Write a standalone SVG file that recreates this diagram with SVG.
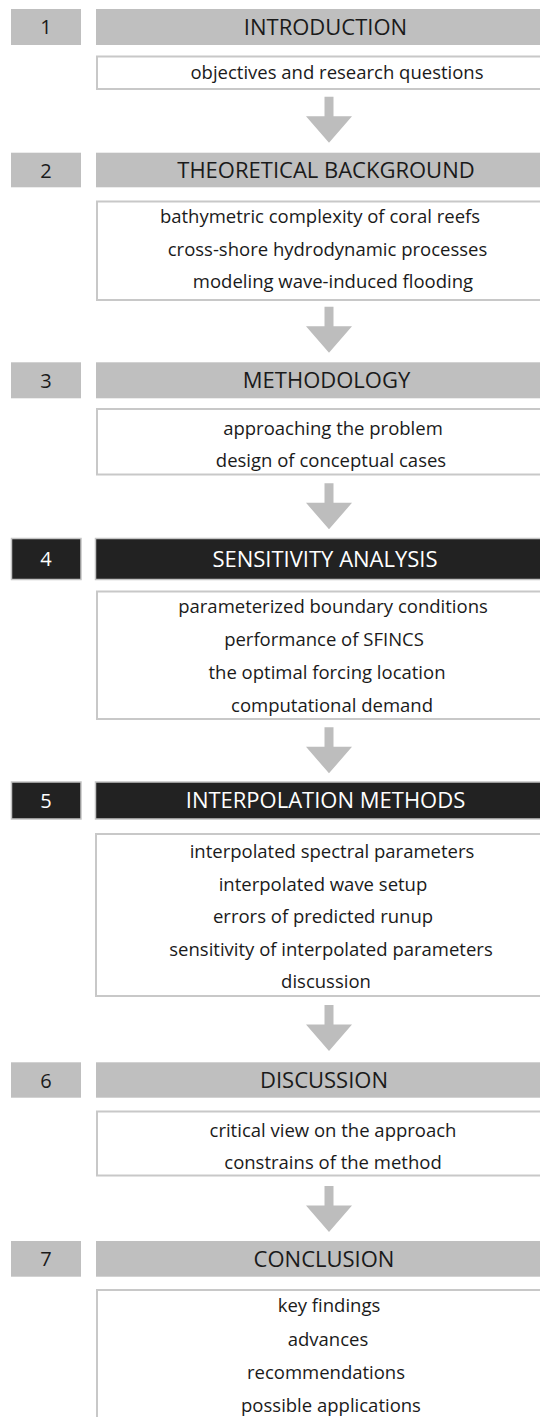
<svg xmlns="http://www.w3.org/2000/svg" width="540" height="1417" viewBox="0 0 540 1417">
<defs>
<style>
.num{fill:#bfbfbf}
.hdr{fill:#bfbfbf}
.dark{fill:#222222;stroke:#c4c4c4;stroke-width:1.5}
.box{fill:#ffffff;stroke:#c8c8c8;stroke-width:2}
.arrow{fill:#bdbdbd}
text{font-family:"Open Sans","Liberation Sans",sans-serif;text-anchor:middle}
.ht{font-size:22px;fill:#1a1a1a}
.htw{font-size:22px;fill:#ffffff}
.nt{font-size:20px;fill:#1a1a1a}
.ntw{font-size:20px;fill:#ffffff}
.ct{font-size:18.5px;fill:#1a1a1a}
</style>
<path id="arr" class="arrow" d="M-4.5,0 H4.5 V19.5 H23 L0,46 L-23,19.5 H-4.5 Z"/>
</defs>
<rect width="540" height="1417" fill="#ffffff"/>

<g id="connectors">
<use href="#arr" x="329" y="96.7"/>
<use href="#arr" x="329" y="306.7"/>
<use href="#arr" x="329" y="483.3"/>
<use href="#arr" x="329" y="727.3"/>
<use href="#arr" x="329" y="1005"/>
<use href="#arr" x="329" y="1186"/>
</g>

<g id="node1">
<rect class="num" x="11" y="9" width="70" height="36"/>
<text class="nt" x="46" y="34">1</text>
<rect class="hdr" x="96" y="9" width="460" height="36"/>
<text class="ht" x="325.5" y="34.8">INTRODUCTION</text>
<rect class="box" x="97" y="56.5" width="470" height="32.5"/>
<text class="ct" x="337" y="79">objectives and research questions</text>
</g>

<g id="node2">
<rect class="num" x="11" y="152.7" width="70" height="34.6"/>
<text class="nt" x="46" y="177.5">2</text>
<rect class="hdr" x="96" y="152.7" width="460" height="34.6"/>
<text class="ht" x="326" y="178">THEORETICAL BACKGROUND</text>
<rect class="box" x="97" y="201.5" width="470" height="98.5"/>
<text class="ct" x="320" y="223">bathymetric complexity of coral reefs</text>
<text class="ct" x="327.5" y="255.5">cross-shore hydrodynamic processes</text>
<text class="ct" x="333" y="287.5">modeling wave-induced flooding</text>
</g>

<g id="node3">
<rect class="num" x="11" y="362.3" width="70" height="36"/>
<text class="nt" x="46" y="387.5">3</text>
<rect class="hdr" x="96" y="362.3" width="460" height="36"/>
<text class="ht" x="326.5" y="388.2">METHODOLOGY</text>
<rect class="box" x="97" y="409" width="470" height="65.5"/>
<text class="ct" x="333" y="434.8">approaching the problem</text>
<text class="ct" x="331" y="466.5">design of conceptual cases</text>
</g>

<g id="node4">
<rect class="dark" x="11.5" y="538.5" width="69.5" height="41"/>
<text class="ntw" x="46" y="566">4</text>
<rect class="dark" x="95.5" y="538.5" width="460" height="41"/>
<text class="htw" x="325" y="566.8">SENSITIVITY ANALYSIS</text>
<rect class="box" x="97" y="591.5" width="470" height="127.5"/>
<text class="ct" x="333" y="612.5">parameterized boundary conditions</text>
<text class="ct" x="324" y="645.5">performance of SFINCS</text>
<text class="ct" x="327" y="679">the optimal forcing location</text>
<text class="ct" x="332" y="711.5">computational demand</text>
</g>

<g id="node5">
<rect class="dark" x="11.5" y="782" width="69.5" height="37"/>
<text class="ntw" x="46" y="807.5">5</text>
<rect class="dark" x="95.5" y="782" width="460" height="37"/>
<text class="htw" x="325.5" y="808.2">INTERPOLATION METHODS</text>
<rect class="box" x="96" y="834" width="470" height="162"/>
<text class="ct" x="332" y="858">interpolated spectral parameters</text>
<text class="ct" x="323" y="890.5">interpolated wave setup</text>
<text class="ct" x="323" y="923">errors of predicted runup</text>
<text class="ct" x="331" y="955.5">sensitivity of interpolated parameters</text>
<text class="ct" x="326" y="988">discussion</text>
</g>

<g id="node6">
<rect class="num" x="11" y="1062.3" width="70" height="35.4"/>
<text class="nt" x="46" y="1087.5">6</text>
<rect class="hdr" x="96" y="1062.3" width="460" height="35.4"/>
<text class="ht" x="324" y="1088">DISCUSSION</text>
<rect class="box" x="97" y="1111.5" width="470" height="64"/>
<text class="ct" x="333" y="1136.5">critical view on the approach</text>
<text class="ct" x="333" y="1168.8">constrains of the method</text>
</g>

<g id="node7">
<rect class="num" x="11" y="1241" width="70" height="35.7"/>
<text class="nt" x="46" y="1266.3">7</text>
<rect class="hdr" x="96" y="1241" width="460" height="35.7"/>
<text class="ht" x="324" y="1266.8">CONCLUSION</text>
<rect class="box" x="97" y="1290" width="470" height="140"/>
<text class="ct" x="329" y="1312">key findings</text>
<text class="ct" x="328" y="1345.5">advances</text>
<text class="ct" x="326" y="1378.5">recommendations</text>
<text class="ct" x="331" y="1411.5">possible applications</text>
</g>
</svg>
